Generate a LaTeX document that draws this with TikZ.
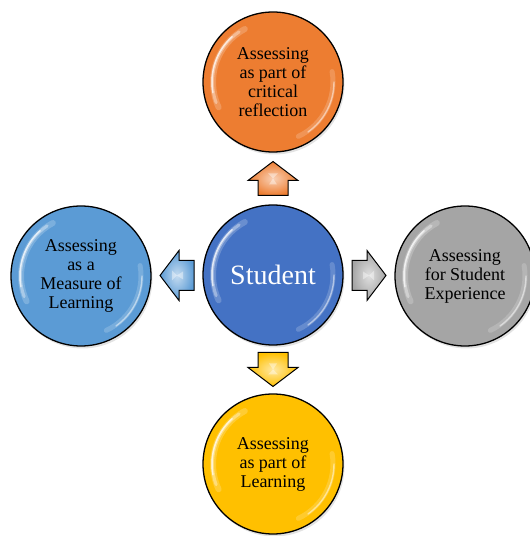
\documentclass[tikz,border=0pt]{standalone}
\usepackage{fontspec}
\setmainfont{Liberation Serif}
\usetikzlibrary{shadows,calc}
\definecolor{cOrange}{HTML}{ED7D31}
\definecolor{cBlue}{HTML}{4472C4}
\definecolor{cLight}{HTML}{5B9BD5}
\definecolor{cGray}{HTML}{A5A5A5}
\definecolor{cYellow}{HTML}{FFC000}
\colorlet{gin}{white}\colorlet{gout}{black}
\pgfdeclareradialshading[gin,gout]{glossy}{\pgfpoint{0bp}{0bp}}{color(0bp)=(gin); color(33bp)=(gin); color(50bp)=(gout)}
\tikzset{
  ball/.style={circle, minimum size=140pt, inner sep=0pt, draw=black, line width=1.3pt,
    font=\fontsize{18}{19}\selectfont, align=center, text=black,
    drop shadow={opacity=0.22, shadow xshift=1.5pt, shadow yshift=-2.5pt},
    path picture={
      \colorlet{gin}{#1}\colorlet{gout}{#1!80!black}
      \shade[shading=glossy] (path picture bounding box.south west) rectangle (path picture bounding box.north east);
      \draw[white, line width=6pt, opacity=0.2, line cap=round]
        ([shift={(118:60pt)}]path picture bounding box.center) arc[start angle=118, end angle=205, radius=60pt];
      \draw[white, line width=3pt, opacity=0.35, line cap=round]
        ([shift={(124:60.5pt)}]path picture bounding box.center) arc[start angle=124, end angle=200, radius=60.5pt];
      \draw[white, line width=1.5pt, opacity=0.7, line cap=round]
        ([shift={(132:61pt)}]path picture bounding box.center) arc[start angle=132, end angle=190, radius=61pt];
      \draw[white, line width=5pt, opacity=0.18, line cap=round]
        ([shift={(-65:60pt)}]path picture bounding box.center) arc[start angle=-65, end angle=10, radius=60pt];
      \draw[white, line width=1.4pt, opacity=0.5, line cap=round]
        ([shift={(-55:61pt)}]path picture bounding box.center) arc[start angle=-55, end angle=0, radius=61pt];
    }},
  arrowbody/.style={draw=black, line width=1pt, inner color=#1!35!white, outer color=#1}
}
\newcommand\bkarrow[3]{%
  \begin{scope}[shift={#1}, rotate=#2]
    \shade[arrowbody=#3] (0,17) -- (25,-2) -- (15,-2) -- (15,-17) -- (-15,-17) -- (-15,-2) -- (-25,-2) -- cycle;
    \fill[white, opacity=0.4] (-5,5) -- (5,5) -- (0,0) -- (4,-6) -- (-4,-6) -- (0,0) -- cycle;
  \end{scope}}
\begin{document}
\begin{tikzpicture}[x=1pt, y=1pt]
\useasboundingbox (0,0) rectangle (530,536);
\node[ball=cBlue, text=white, font=\fontsize{28}{30}\selectfont] (stu) at (273,261) {Student};
\node[ball=cOrange] (top) at (273,454) {Assessing\\as part of\\critical\\reflection};
\node[ball=cLight] (lft) at (81,260) {Assessing\\as a\\Measure of\\Learning};
\node[ball=cGray] (rgt) at (465,260) {Assessing\\for Student\\Experience};
\node[ball=cYellow] (bot) at (273,72) {Assessing\\as part of\\Learning};
\bkarrow{($(stu)!0.5!(top)$)}{0}{cOrange}
\bkarrow{($(stu)!0.5!(bot)$)}{180}{cYellow}
\bkarrow{($(stu)!0.5!(lft)$)}{90}{cLight}
\bkarrow{($(stu)!0.5!(rgt)$)}{-90}{cGray}
\end{tikzpicture}
\end{document}
